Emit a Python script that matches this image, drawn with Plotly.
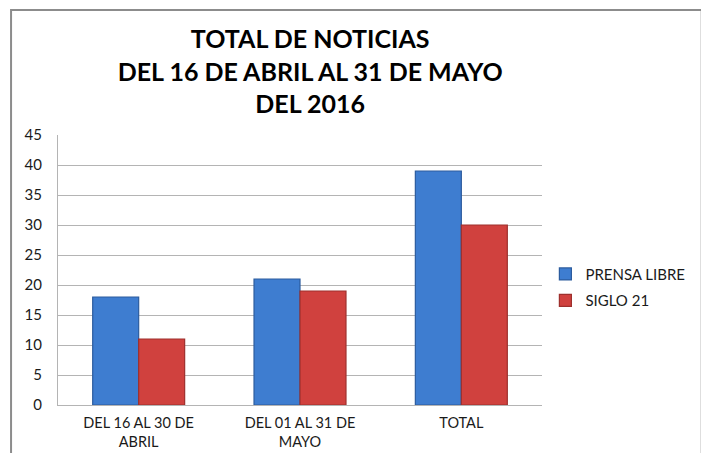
import plotly.graph_objects as go

# datos
categorias = ["DEL 16 AL 30 DE<br>ABRIL", "DEL 01 AL 31 DE<br>MAYO", "TOTAL"]
prensa_libre = [18, 21, 39]
siglo_21 = [11, 19, 30]
ticks_y = [0, 5, 10, 15, 20, 25, 30, 35, 40, 45]

fuente = "Lato"

fig = go.Figure()
fig.add_trace(go.Bar(
    name="PRENSA LIBRE", x=categorias, y=prensa_libre,
    legendgroup="a",
    marker=dict(color="#3e7dd0", line=dict(color="#2c5c9e", width=1.2))))
fig.add_trace(go.Bar(
    name="SIGLO 21", x=categorias, y=siglo_21,
    legendgroup="b",
    marker=dict(color="#d0413e", line=dict(color="#9e302d", width=1.2))))

# borde del area del grafico (izquierda y arriba)
fig.add_shape(type="rect", xref="paper", yref="paper",
              x0=-0.097, x1=1.33, y0=-0.25, y1=1.463,
              line=dict(color="#8c8c8c", width=2), layer="below")

fig.update_layout(
    width=701, height=453,
    margin=dict(l=58, r=159, t=135, b=48, autoexpand=False),
    plot_bgcolor="white", paper_bgcolor="white",
    barmode="group", bargap=0.43, bargroupgap=0,
    font=dict(family=fuente, size=15, color="#1a1a1a"),
    title=dict(text="TOTAL DE NOTICIAS<br>DEL 16 DE ABRIL AL 31 DE MAYO<br>DEL 2016",
               font=dict(family=fuente, size=25, color="black", weight="bold"),
               x=0.521, xref="paper", xanchor="center",
               y=0.893, yref="container", yanchor="top"),
    legend=dict(x=0.778, y=0.366, xref="container", yref="container",
                xanchor="left", yanchor="middle",
                font=dict(family=fuente, size=15),
                tracegroupgap=4, itemwidth=30),
    showlegend=True,
)
fig.update_yaxes(range=[0, 45], tickvals=ticks_y, showgrid=True,
                 gridcolor="#b4b4b4", gridwidth=1, showline=True,
                 linecolor="#b4b4b4", zeroline=False, ticks="",
                 ticklabelstandoff=12, automargin=False)
fig.update_xaxes(showline=True, linecolor="#b4b4b4", ticks="",
                 ticklabelstandoff=5, automargin=False,
                 tickfont=dict(size=14.5))

fig.write_html("out.html", config={"displayModeBar": False},
               post_script="document.body.style.margin='0';")
